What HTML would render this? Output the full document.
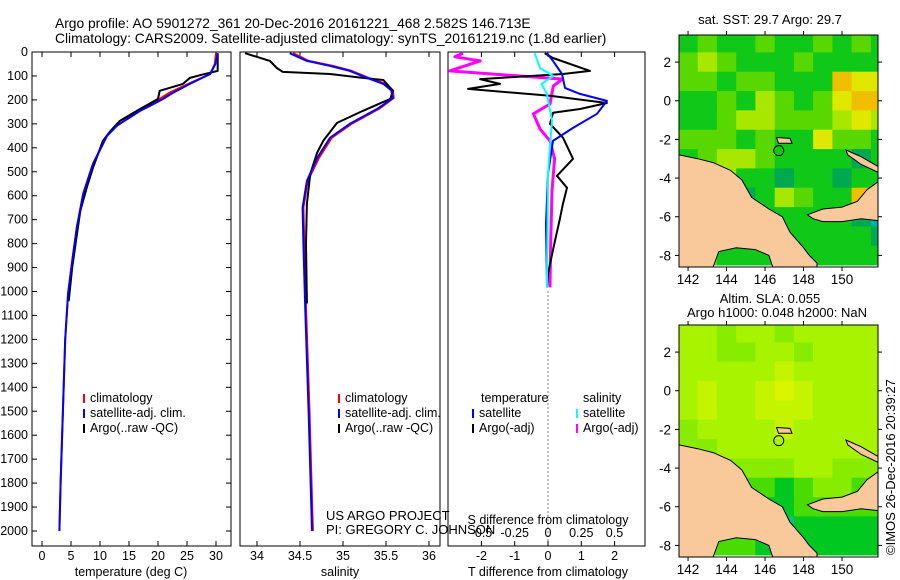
<!DOCTYPE html>
<html><head><meta charset="utf-8"><style>
body{margin:0;background:#fff}
svg{display:block;font-family:"Liberation Sans",sans-serif;font-size:12.5px}
</style></head><body>
<svg id="fig" width="900" height="580" xmlns="http://www.w3.org/2000/svg">
<text x="55" y="28" font-size="13.8">Argo profile: AO 5901272_361 20-Dec-2016 20161221_468 2.582S 146.713E</text>
<text x="55" y="43" font-size="13.8">Climatology: CARS2009. Satellite-adjusted climatology: synTS_20161219.nc (1.8d earlier)</text>
<g id="plots"></g>
<text x="326" y="520" font-size="13">US ARGO PROJECT</text>
<text x="326" y="534" font-size="13">PI: GREGORY C. JOHNSON</text>
<text x="770" y="24" text-anchor="middle" font-size="13">sat. SST: 29.7 Argo: 29.7</text>
<text x="770" y="303" text-anchor="middle" font-size="13">Altim. SLA: 0.055</text>
<text x="777" y="317" text-anchor="middle" font-size="13">Argo h1000: 0.048 h2000: NaN</text>
<text x="0" y="0" transform="translate(895,555) rotate(-90)" font-size="13">©IMOS 26-Dec-2016 20:39:27</text>
</svg>
<script>
// ---------- data ----------
const depthTicks=[0,100,200,300,400,500,600,700,800,900,1000,1100,1200,1300,1400,1500,1600,1700,1800,1900,2000];
const tTicks=[0,5,10,15,20,25,30];
const sTicks=[34,34.5,35,35.5,36];
const dtTicks=[-2,-1,0,1,2];
const dsTicks=[-0.5,-0.25,0,0.25,0.5];
const dsTickLabels=["-0.5","-0.25","0","0.25","0.5"];
// temperature profiles [depth, T]
const tClimDepth=[5,50,92,133,170,196,230,246,308,350,467,592,733,858,1008,1200,1500,1800,2000];
const tClimVals=[30.0,29.8,29.0,25.2,22.0,20.3,17.8,16.6,12.9,11.2,8.8,7.1,6.0,5.3,4.5,4.0,3.6,3.2,3.0];
const tSatDepth=[5,50,92,133,170,196,230,246,308,350,467,592,733,858,1008,1200,1500,1800,2000];
const tSatVals=[30.3,29.9,29.0,25.5,22.6,20.9,18.2,16.9,12.9,11.2,8.8,7.1,6.0,5.3,4.5,4.0,3.6,3.2,3.0];
const tArgoDepth=[5,40,79,95,108,133,162,196,215,238,288,330,371,483,560,663,800,900,1040];
const tArgoVals=[30.3,30.3,30.3,27.5,25.5,24.3,20.3,20.0,18.6,16.9,13.4,11.8,10.5,8.8,7.8,6.6,5.8,5.2,4.6];
// salinity profiles [depth, S]
const sSatDepth=[5,37,58,79,108,133,160,192,237,300,358,442,538,650,800,1067,1500,2000];
const sSatVals=[34.38,34.58,34.85,35.08,35.28,35.47,35.56,35.58,35.40,35.08,34.85,34.70,34.58,34.53,34.54,34.56,34.60,34.64];
const sClimVals=[34.42,34.60,34.88,35.10,35.30,35.50,35.58,35.59,35.42,35.10,34.87,34.72,34.59,34.54,34.55,34.57,34.61,34.65];
const sArgoDepth=[5,37,67,83,92,108,117,162,196,246,296,371,420,508,633,800,1050];
const sArgoVals=[33.86,34.15,34.23,34.30,34.85,35.23,35.47,35.58,35.55,35.23,34.93,34.77,34.70,34.62,34.58,34.57,34.58];
// differences
const dtArgoDepth=[5,25,79,92,113,133,154,183,213,238,254,300,358,446,517,567,633,700,788,925,983];
const dtArgoVals=[-0.1,0.15,1.26,0.45,-2.04,-1.44,-2.4,0.06,1.77,0.96,0.15,0.06,0.45,0.75,0.27,0.57,0.45,0.35,0.21,0.0,-0.03];
const dtSatDepth=[5,37,92,150,175,204,258,317,371,508,717,967];
const dtSatVals=[-0.03,0.15,0.42,0.51,0.96,1.77,1.47,0.75,0.15,0.0,-0.06,-0.03];
const dsArgoDepth=[5,20,37,79,113,142,217,258,321,371,446,579,800,983];
const dsArgoVals=[-0.64,-0.70,-0.51,-0.74,0.11,0.04,0.015,-0.11,-0.06,0.015,0.05,0.03,0.02,0.015];
const dsSatDepth=[5,67,100,133,175,287,508,983];
const dsSatVals=[-0.10,-0.06,0.04,-0.05,-0.008,0.03,0.0,-0.008];
// map grids (1 deg cells, rows lat 3..-8, cols lon 142..152)
const sstGrid=[
[3,4,3,3,4,3,3,4,3,4,3],[4,5,4,3,3,3,4,3,3,3,3],[4,4,3,4,4,3,3,3,7,6,6],
[3,3,4,3,5,4,3,4,6,7,7],[3,3,4,5,5,4,4,4,5,6,5],[4,4,4,3,4,3,3,6,4,4,3],
[3,4,5,5,4,3,3,3,3,2,3],[3,3,5,3,3,2,3,3,2,3,3],[3,3,3,2,3,5,4,3,3,7,8],
[3,3,3,3,3,3,3,3,3,2,1],[3,3,3,3,3,3,3,3,3,3,2],[3,4,3,3,3,3,3,3,3,3,3]];
const slaGrid=[
[4,4,3,4,4,3,4,4,4,4,4],[4,4,3,3,4,4,3,4,4,4,4],[4,4,4,4,4,5,4,4,4,4,4],
[4,5,4,4,5,6,5,4,4,4,4],[4,5,4,4,5,5,5,4,4,4,4],[3,4,4,4,4,5,4,4,4,4,4],
[3,3,4,4,4,4,4,4,4,4,4],[3,3,3,3,3,3,4,4,3,3,3],[2,2,2,2,2,1,2,3,3,2,2],
[2,2,2,2,1,1,2,2,2,2,2],[1,2,2,2,1,0,1,1,1,1,1],[1,2,2,2,1,1,1,1,1,1,1]];
const lonTicks=[142,144,146,148,150];
const latTicks=[2,0,-2,-4,-6,-8];
const argoLon=146.713, argoLat=-2.582;

// ---------- drawing ----------
const NS="http://www.w3.org/2000/svg";
const root=document.getElementById('plots');
function el(tag,attrs,parent){const e=document.createElementNS(NS,tag);for(const k in attrs)e.setAttribute(k,attrs[k]);(parent||root).appendChild(e);return e;}
const yTop=52,yBot=546;
const yD=d=>yTop+d*0.2395;
const P1={l:32,r:231},P2={l:240,r:440},P3={l:448,r:645};
const xT=t=>42+t*5.8;
const xS=s=>257+(s-34)*86;
const xDT=v=>548+v*33.3;
const xDS=v=>548+v*133;

function line(xs,ds,f,color,w,name){
  const pts=ds.map((d,i)=>f(xs[i]).toFixed(1)+','+yD(d).toFixed(1)).join(' ');
  const p=el('polyline',{points:pts,fill:'none',stroke:color,'stroke-width':w,'stroke-linejoin':'round'});
  
  
}
function box(P,name){
  const r=el('rect',{x:P.l,y:yTop,width:P.r-P.l,height:yBot-yTop,fill:'none',stroke:'#000','stroke-width':1});
  
  
}
function xTicks(vals,f,labels,ly,name){
  vals.forEach((v,i)=>{
    const x=f(v);
    el('line',{x1:x,x2:x,y1:yTop,y2:yTop+5,stroke:'#000'});
    el('line',{x1:x,x2:x,y1:yBot,y2:yBot-5,stroke:'#000'});
    const t=el('text',{x:x,y:ly,'text-anchor':'middle'});t.textContent=labels?labels[i]:String(v);
    
    
  });
}
// y ticks
depthTicks.forEach(d=>{
  const y=yD(d);
  el('line',{x1:P1.l,x2:P1.l+5,y1:y,y2:y,stroke:'#000'});
  el('line',{x1:P1.r,x2:P1.r-5,y1:y,y2:y,stroke:'#000'});
  const t=el('text',{x:28,y:y+4,'text-anchor':'end'});t.textContent=d;
  
  
});
box(P1,'temperature-axes');box(P2,'salinity-axes');box(P3,'difference-axes');
xTicks(tTicks,xT,null,560,'temperature-tick-label');
xTicks(sTicks,xS,null,560,'salinity-tick-label');
xTicks(dtTicks,xDT,null,560,'t-diff-tick-label');
dsTicks.forEach((v,i)=>{const t=el('text',{x:xDS(v),y:537,'text-anchor':'middle'});t.textContent=dsTickLabels[i];
  
  });
[[131,'temperature (deg C)','x-axis-title-temperature'],[340,'salinity','x-axis-title-salinity'],[548,'T difference from climatology','x-axis-title-t-diff'],[548,'S difference from climatology','s-diff-title']].forEach((a,i)=>{
  const t=el('text',{x:a[0],y:i==3?524:576,'text-anchor':'middle'});t.textContent=a[1];
  
  
});
// dotted zero line
for(let y=yD(1000);y<yBot;y+=4) el('rect',{x:547.5,y:y,width:1,height:1,fill:'#000'});
// series
line(tClimVals,tClimDepth,xT,'#f00',2,'temp-climatology-line');
line(tArgoVals,tArgoDepth,xT,'#000',2,'temp-argo-line');
line(tSatVals,tSatDepth,xT,'#00f',2,'temp-satellite-line');
line(sClimVals,sSatDepth,xS,'#f00',2,'sal-climatology-line');
line(sArgoVals,sArgoDepth,xS,'#000',2,'sal-argo-line');
line(sSatVals,sSatDepth,xS,'#00f',2,'sal-satellite-line');
line(dsArgoVals,dsArgoDepth,xDS,'#f0f',3,'s-diff-argo-line');
line(dtArgoVals,dtArgoDepth,xDT,'#000',2,'t-diff-argo-line');
line(dtSatVals,dtSatDepth,xDT,'#00f',2,'t-diff-satellite-line');
line(dsSatVals,dsSatDepth,xDS,'#0ff',2,'s-diff-satellite-line');
// legends
function leg(x,y,color,label){
  el('rect',{x:x,y:y-8,width:2,height:9,fill:color});
  const t=el('text',{x:x+7,y:y});t.textContent=label;
  
  
}
[[83,'#f00','climatology'],[83,'#00f','satellite-adj. clim.'],[83,'#000','Argo(..raw -QC)']].forEach((a,i)=>{leg(a[0],402+i*15,a[1],a[2]);leg(338,402+i*15,a[1],a[2]);});
{const t=el('text',{x:481,y:402});t.textContent='temperature';}
{const t=el('text',{x:583,y:402});t.textContent='salinity';}
leg(472,417,'#00f','satellite');leg(472,432,'#000','Argo(-adj)');
leg(576,417,'#0ff','satellite');leg(576,432,'#f0f','Argo(-adj)');

// ---------- maps ----------
const mL=679,mR=878,lon0=141.53,lon1=151.87,lat0=3.4,lat1=-8.6;
const land=[[[141.53,-2.8],[142.5,-3.0],[143.3,-3.2],[144.2,-3.6],[144.8,-4.1],[145.3,-5.0],[146.2,-5.6],[146.9,-6.0],[147.3,-6.8],[148,-7.6],[148.3,-8.0],[148.7,-8.4],[148.7,-8.6],[146.4,-8.6],[146.2,-8.0],[145.5,-7.7],[144.5,-7.6],[143.6,-7.8],[143.3,-8.6],[141.53,-8.6]],
[[148.2,-5.9],[149,-5.6],[150,-5.5],[150.8,-5.2],[151.3,-4.6],[151.87,-4.2],[151.87,-6.2],[151,-6.1],[150,-6.25],[149,-6.25],[148.5,-6.1]],
[[150.2,-2.55],[151,-2.9],[151.87,-3.4],[151.87,-3.7],[151,-3.3],[150.3,-2.8]],
[[146.6,-1.9],[147.3,-1.95],[147.4,-2.2],[146.7,-2.2]]];
function drawMap(top,grid,pal,name){
  const bot=top+232;
  const X=lon=>mL+(lon-lon0)/(lon1-lon0)*(mR-mL);
  const Y=lat=>top+(lat0-lat)/(lat0-lat1)*(bot-top);
  const g=el('g',{});
  
  
  const cid='clip'+top;
  const cp=el('clipPath',{id:cid},g);el('rect',{x:mL,y:top,width:mR-mL,height:bot-top},cp);
  const cg=el('g',{'clip-path':'url(#'+cid+')'},g);
  grid.forEach((row,ri)=>row.forEach((v,ci)=>{
    const lonC=142+ci,latC=3-ri;
    const x0=X(lonC-0.5),x1=X(lonC+0.5),y0=Y(latC+0.5),y1=Y(latC-0.5);
    const c=el('rect',{x:x0.toFixed(1),y:y0.toFixed(1),width:(x1-x0+0.5).toFixed(1),height:(y1-y0+0.5).toFixed(1),fill:pal[v]},cg);
    
    
  }));
  land.forEach(poly=>{
    const p=el('polygon',{points:poly.map(q=>X(q[0]).toFixed(1)+','+Y(q[1]).toFixed(1)).join(' '),fill:'#fac99b',stroke:'#000','stroke-width':1},cg);
    
    
  });
  const m=el('circle',{cx:X(argoLon),cy:Y(argoLat),r:5,fill:'none',stroke:'#000'},g);
  
  
  el('rect',{x:mL,y:top,width:mR-mL,height:bot-top,fill:'none',stroke:'#000'},g);
  lonTicks.forEach(l=>{const x=X(l);el('line',{x1:x,x2:x,y1:top,y2:top-4,stroke:'#000'},g);el('line',{x1:x,x2:x,y1:bot,y2:bot+4,stroke:'#000'},g);
    const t=el('text',{x:x,y:bot+17,'text-anchor':'middle','font-size':'13.5'},g);t.textContent=l;
    });
  latTicks.forEach(l=>{const y=Y(l);el('line',{x1:mL,x2:mL-4,y1:y,y2:y,stroke:'#000'},g);el('line',{x1:mR,x2:mR+4,y1:y,y2:y,stroke:'#000'},g);
    const t=el('text',{x:mL-8,y:y+5,'text-anchor':'end','font-size':'13.5'},g);t.textContent=l;
    });
}
const sstPal=['#0050ff','#00b0b0','#00a850','#10c818','#58d800','#a8e800','#e0e800','#f0c000','#f09000'];
const slaPal=['#10c080','#00c820','#48dc00','#88ec00','#a8f400','#c4f400','#dcf400'];
drawMap(35,sstGrid,sstPal,'sst-map');
drawMap(325,slaGrid,slaPal,'sla-map');
</script>
</body></html>
